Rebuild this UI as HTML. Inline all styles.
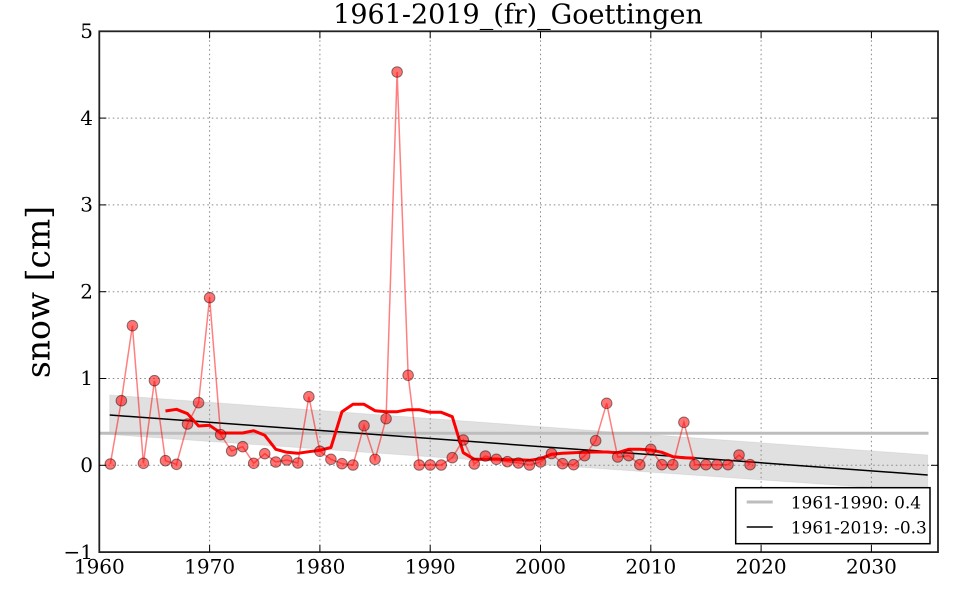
<!DOCTYPE html>
<html><head><meta charset="utf-8"><style>
html,body{margin:0;padding:0;background:#fff;}
svg{display:block;}
text{font-family:"DejaVu Serif","Liberation Serif",serif;fill:#000;}
</style></head><body>
<svg width="960" height="600" viewBox="0 0 960 600" xmlns="http://www.w3.org/2000/svg">
<rect x="0" y="0" width="960" height="600" fill="#fff"/>
<!-- band -->
<polygon points="109.7,395 927.7,455 927.7,491.5 109.7,434.5" fill="#000" fill-opacity="0.12" stroke="#000" stroke-opacity="0.06" stroke-width="1"/>
<!-- grid -->
<g stroke="#888" stroke-width="1" stroke-dasharray="1.5,3" fill="none">
<line x1="209.6" y1="31.3" x2="209.6" y2="552.1"/>
<line x1="319.9" y1="31.3" x2="319.9" y2="552.1"/>
<line x1="430.2" y1="31.3" x2="430.2" y2="552.1"/>
<line x1="540.5" y1="31.3" x2="540.5" y2="552.1"/>
<line x1="650.8" y1="31.3" x2="650.8" y2="552.1"/>
<line x1="761.1" y1="31.3" x2="761.1" y2="552.1"/>
<line x1="871.4" y1="31.3" x2="871.4" y2="552.1"/>
<line x1="99.3" y1="118.1" x2="938" y2="118.1"/>
<line x1="99.3" y1="204.9" x2="938" y2="204.9"/>
<line x1="99.3" y1="291.7" x2="938" y2="291.7"/>
<line x1="99.3" y1="378.5" x2="938" y2="378.5"/>
<line x1="99.3" y1="465.3" x2="938" y2="465.3"/>
</g>
<!-- 1961-1990 mean line -->
<line x1="99.3" y1="433.3" x2="928.5" y2="433.3" stroke="#bdbdbd" stroke-width="3"/>
<!-- trend -->
<line x1="109.7" y1="415" x2="927.7" y2="475" stroke="#000" stroke-width="1.5"/>
<!-- data line -->
<polyline fill="none" stroke="#ff0000" stroke-opacity="0.5" stroke-width="1.5" points="110.33,464 121.36,400.7 132.39,325.7 143.42,463.3 154.45,380.7 165.48,460.7 176.51,464.3 187.54,424 198.57,402.7 209.6,297.7 220.63,434.7 231.66,451 242.69,446.7 253.72,463.3 264.75,453.7 275.78,462 286.81,460 297.84,463 308.87,396.7 319.9,451.3 330.93,459.3 341.96,463.7 352.99,465 364.02,425.7 375.05,459.3 386.08,418.7 397.11,72 408.14,375.3 419.17,465 430.2,465 441.23,465 452.26,457.7 463.29,440 474.32,464 485.35,456 496.38,459.3 507.41,461.7 518.44,463 529.47,465 540.5,462 551.53,453.5 562.56,463.7 573.59,464.7 584.62,455.7 595.65,440.7 606.68,403.3 617.71,457 628.74,455.7 639.77,464.7 650.8,449.3 661.83,464.7 672.86,464.7 683.89,422.3 694.92,464.7 705.95,464.7 716.98,464.7 728.01,464.7 739.04,455 750.07,464.7"/>
<!-- moving average -->
<polyline fill="none" stroke="#ff0000" stroke-width="3" stroke-linejoin="round" points="165.48,411 176.51,409.3 187.54,413.7 198.57,426 209.6,425.3 220.63,433 231.66,433 242.69,433 253.72,430.7 264.75,435.3 275.78,449.3 286.81,452.3 297.84,453.3 308.87,451.7 319.9,450.3 330.93,447.5 341.96,411.7 352.99,404.3 364.02,404.3 375.05,410.7 386.08,411.7 397.11,411.7 408.14,409.7 419.17,409.7 430.2,412.3 441.23,412.3 452.26,416.7 463.29,452.7 474.32,459.3 485.35,459.3 496.38,459 507.41,459.7 518.44,459.7 529.47,460.3 540.5,458.7 551.53,454.3 562.56,453.3 573.59,452.7 584.62,452.3 595.65,452 606.68,452 617.71,452.7 628.74,449.3 639.77,449.3 650.8,450 661.83,452.3 672.86,456.7 683.89,457.7 694.92,458.3"/>
<!-- markers -->
<g fill="#ff0000" fill-opacity="0.55" stroke="#000" stroke-opacity="0.45" stroke-width="1">
<circle cx="110.33" cy="464" r="5.3"/><circle cx="121.36" cy="400.7" r="5.3"/><circle cx="132.39" cy="325.7" r="5.3"/><circle cx="143.42" cy="463.3" r="5.3"/><circle cx="154.45" cy="380.7" r="5.3"/><circle cx="165.48" cy="460.7" r="5.3"/><circle cx="176.51" cy="464.3" r="5.3"/><circle cx="187.54" cy="424" r="5.3"/><circle cx="198.57" cy="402.7" r="5.3"/><circle cx="209.6" cy="297.7" r="5.3"/><circle cx="220.63" cy="434.7" r="5.3"/><circle cx="231.66" cy="451" r="5.3"/><circle cx="242.69" cy="446.7" r="5.3"/><circle cx="253.72" cy="463.3" r="5.3"/><circle cx="264.75" cy="453.7" r="5.3"/><circle cx="275.78" cy="462" r="5.3"/><circle cx="286.81" cy="460" r="5.3"/><circle cx="297.84" cy="463" r="5.3"/><circle cx="308.87" cy="396.7" r="5.3"/><circle cx="319.9" cy="451.3" r="5.3"/><circle cx="330.93" cy="459.3" r="5.3"/><circle cx="341.96" cy="463.7" r="5.3"/><circle cx="352.99" cy="465" r="5.3"/><circle cx="364.02" cy="425.7" r="5.3"/><circle cx="375.05" cy="459.3" r="5.3"/><circle cx="386.08" cy="418.7" r="5.3"/><circle cx="397.11" cy="72" r="5.3"/><circle cx="408.14" cy="375.3" r="5.3"/><circle cx="419.17" cy="465" r="5.3"/><circle cx="430.2" cy="465" r="5.3"/><circle cx="441.23" cy="465" r="5.3"/><circle cx="452.26" cy="457.7" r="5.3"/><circle cx="463.29" cy="440" r="5.3"/><circle cx="474.32" cy="464" r="5.3"/><circle cx="485.35" cy="456" r="5.3"/><circle cx="496.38" cy="459.3" r="5.3"/><circle cx="507.41" cy="461.7" r="5.3"/><circle cx="518.44" cy="463" r="5.3"/><circle cx="529.47" cy="465" r="5.3"/><circle cx="540.5" cy="462" r="5.3"/><circle cx="551.53" cy="453.5" r="5.3"/><circle cx="562.56" cy="463.7" r="5.3"/><circle cx="573.59" cy="464.7" r="5.3"/><circle cx="584.62" cy="455.7" r="5.3"/><circle cx="595.65" cy="440.7" r="5.3"/><circle cx="606.68" cy="403.3" r="5.3"/><circle cx="617.71" cy="457" r="5.3"/><circle cx="628.74" cy="455.7" r="5.3"/><circle cx="639.77" cy="464.7" r="5.3"/><circle cx="650.8" cy="449.3" r="5.3"/><circle cx="661.83" cy="464.7" r="5.3"/><circle cx="672.86" cy="464.7" r="5.3"/><circle cx="683.89" cy="422.3" r="5.3"/><circle cx="694.92" cy="464.7" r="5.3"/><circle cx="705.95" cy="464.7" r="5.3"/><circle cx="716.98" cy="464.7" r="5.3"/><circle cx="728.01" cy="464.7" r="5.3"/><circle cx="739.04" cy="455" r="5.3"/><circle cx="750.07" cy="464.7" r="5.3"/>
</g>
<!-- legend -->
<rect x="735.7" y="487.7" width="194.3" height="56" fill="#fff" stroke="#000" stroke-width="1.5"/>
<line x1="746.7" y1="502" x2="772.7" y2="502" stroke="#bdbdbd" stroke-width="3"/>
<line x1="746.7" y1="527" x2="772.7" y2="527" stroke="#000" stroke-width="1.5"/>
<text x="790.7" y="508.3" font-size="17">1961-1990: 0.4</text>
<text x="790.7" y="533.3" font-size="17">1961-2019: -0.3</text>
<!-- spines -->
<rect x="99.3" y="31.3" width="838.7" height="520.8" fill="none" stroke="#222" stroke-width="1.8"/>
<!-- ticks -->
<g stroke="#000" stroke-width="1">
<line x1="209.6" y1="552.1" x2="209.6" y2="545.1"/><line x1="209.6" y1="31.3" x2="209.6" y2="38.3"/>
<line x1="319.9" y1="552.1" x2="319.9" y2="545.1"/><line x1="319.9" y1="31.3" x2="319.9" y2="38.3"/>
<line x1="430.2" y1="552.1" x2="430.2" y2="545.1"/><line x1="430.2" y1="31.3" x2="430.2" y2="38.3"/>
<line x1="540.5" y1="552.1" x2="540.5" y2="545.1"/><line x1="540.5" y1="31.3" x2="540.5" y2="38.3"/>
<line x1="650.8" y1="552.1" x2="650.8" y2="545.1"/><line x1="650.8" y1="31.3" x2="650.8" y2="38.3"/>
<line x1="761.1" y1="552.1" x2="761.1" y2="545.1"/><line x1="761.1" y1="31.3" x2="761.1" y2="38.3"/>
<line x1="871.4" y1="552.1" x2="871.4" y2="545.1"/><line x1="871.4" y1="31.3" x2="871.4" y2="38.3"/>
<line x1="99.3" y1="118.1" x2="106.3" y2="118.1"/><line x1="938" y1="118.1" x2="931" y2="118.1"/>
<line x1="99.3" y1="204.9" x2="106.3" y2="204.9"/><line x1="938" y1="204.9" x2="931" y2="204.9"/>
<line x1="99.3" y1="291.7" x2="106.3" y2="291.7"/><line x1="938" y1="291.7" x2="931" y2="291.7"/>
<line x1="99.3" y1="378.5" x2="106.3" y2="378.5"/><line x1="938" y1="378.5" x2="931" y2="378.5"/>
<line x1="99.3" y1="465.3" x2="106.3" y2="465.3"/><line x1="938" y1="465.3" x2="931" y2="465.3"/>
</g>
<!-- y tick labels -->
<g font-size="20" text-anchor="end">
<text x="93" y="38">5</text>
<text x="93" y="124.8">4</text>
<text x="93" y="211.6">3</text>
<text x="93" y="298.4">2</text>
<text x="93" y="385.2">1</text>
<text x="93" y="472">0</text>
<text x="93" y="558.8">−1</text>
</g>
<!-- x tick labels -->
<g font-size="20" text-anchor="middle">
<text x="99.3" y="573.5">1960</text>
<text x="209.6" y="573.5">1970</text>
<text x="319.9" y="573.5">1980</text>
<text x="430.2" y="573.5">1990</text>
<text x="540.5" y="573.5">2000</text>
<text x="650.8" y="573.5">2010</text>
<text x="761.1" y="573.5">2020</text>
<text x="871.4" y="573.5">2030</text>
</g>
<!-- title -->
<text x="518" y="23.5" font-size="27" text-anchor="middle">1961-2019_(fr)_Goettingen</text>
<!-- y label -->
<text x="0" y="0" font-size="33" text-anchor="middle" transform="translate(49.5,292) rotate(-90)">snow [cm]</text>
</svg>
</body></html>
